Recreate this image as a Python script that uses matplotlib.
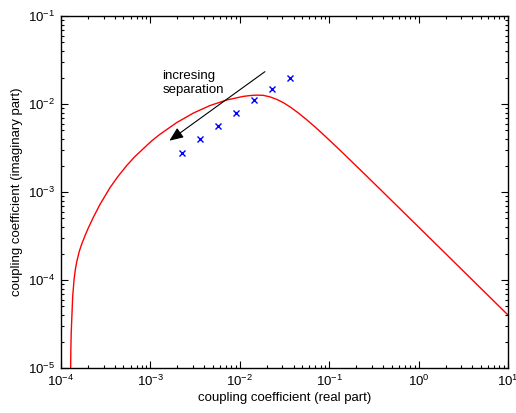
import matplotlib
matplotlib.use("Agg")
import matplotlib.pyplot as plt
from matplotlib.ticker import LogLocator, NullFormatter

# ---- data ----
curve_x = [1.275e-4, 1.284e-4, 1.29e-4, 1.30e-4, 1.35e-4, 1.40e-4, 1.45e-4, 1.50e-4,
           1.60e-4, 1.70e-4, 1.85e-4, 2.02e-4, 2.30e-4, 2.73e-4, 3.53e-4, 4.30e-4,
           5.43e-4, 6.70e-4, 8.33e-4, 1.03e-3, 1.2794e-3, 1.968e-3, 3.020e-3,
           4.634e-3, 7.112e-3, 1.0914e-2,
           1.3032e-2, 1.5560e-2, 1.8408e-2, 2.1878e-2, 2.6002e-2, 3.0903e-2,
           3.6728e-2, 4.4668e-2, 5.5976e-2, 6.9183e-2, 8.5901e-2, 0.13213,
           0.25119, 0.40272, 1.9724, 10.0]
curve_y = [4.15e-6, 1.16e-5, 1.66e-5, 2.46e-5, 6.40e-5, 1.014e-4, 1.332e-4, 1.61e-4,
           2.112e-4, 2.537e-4, 3.161e-4, 3.90e-4, 5.15e-4, 7.23e-4, 1.119e-3, 1.486e-3,
           1.997e-3, 2.526e-3, 3.106e-3, 3.798e-3, 4.528e-3, 6.147e-3, 7.883e-3,
           9.596e-3, 1.1098e-2, 1.2195e-2,
           1.2474e-2, 1.2618e-2, 1.2531e-2, 1.2023e-2, 1.1272e-2, 1.0316e-2,
           9.226e-3, 7.980e-3, 6.630e-3, 5.502e-3, 4.508e-3, 2.985e-3,
           1.5849e-3, 9.908e-4, 2.0277e-4, 3.999e-5]

meas_x = [2.24e-3, 3.59e-3, 5.66e-3, 9.06e-3, 1.44e-2, 2.29e-2, 3.65e-2]
meas_y = [2.80e-3, 4.03e-3, 5.62e-3, 7.96e-3, 1.10e-2, 1.48e-2, 1.96e-2]

arrow_tail = (1.91e-2, 2.33e-2)
arrow_head = (1.63e-3, 3.83e-3)
annot_text = "incresing\nseparation"

x_label = "coupling coefficient (real part)"
y_label = "coupling coefficient (imaginary part)"
x_lim = (1e-4, 1e1)
y_lim = (1e-5, 1e-1)

# ---- style ----
plt.rcParams['font.family'] = ['Liberation Sans', 'DejaVu Sans']
plt.rcParams['mathtext.default'] = 'regular'
plt.rcParams['font.size'] = 9.5

fig = plt.figure(figsize=(5.16, 4.13), dpi=100)
ax = fig.add_axes([61/516, 45/413, 447/516, 352/413])

ax.plot(curve_x, curve_y, color='red', lw=1.0)
ax.plot(meas_x, meas_y, linestyle='none', marker='x', color='blue',
        markersize=5, markeredgewidth=1.0)

ax.annotate("", xy=arrow_head, xytext=arrow_tail,
            arrowprops=dict(arrowstyle='-|>,head_length=0.6,head_width=0.25',
                            color='black', lw=0.8,
                            mutation_scale=14, shrinkA=0, shrinkB=0))
ax.text(1.37e-3, 1.74e-2, annot_text, ha='left', va='center', fontsize=9.5,
        linespacing=1.25)

ax.set_xscale('log')
ax.set_yscale('log')
ax.set_xlim(*x_lim)
ax.set_ylim(*y_lim)

ax.xaxis.set_major_locator(LogLocator(base=10, numticks=10))
ax.yaxis.set_major_locator(LogLocator(base=10, numticks=10))
ax.xaxis.set_minor_locator(LogLocator(base=10, subs=range(2, 10), numticks=20))
ax.yaxis.set_minor_locator(LogLocator(base=10, subs=range(2, 10), numticks=20))
ax.xaxis.set_minor_formatter(NullFormatter())
ax.yaxis.set_minor_formatter(NullFormatter())

ax.tick_params(which='both', direction='in', top=True, right=True, width=0.8)
ax.tick_params(which='major', length=5, labelsize=9.5, pad=4)
ax.tick_params(which='minor', length=2.5)
for s in ax.spines.values():
    s.set_linewidth(1.0)

ax.set_xlabel(x_label, fontsize=9.5, labelpad=2)
ax.set_ylabel(y_label, fontsize=9.5, labelpad=4)

fig.savefig("out.png", dpi=100)
